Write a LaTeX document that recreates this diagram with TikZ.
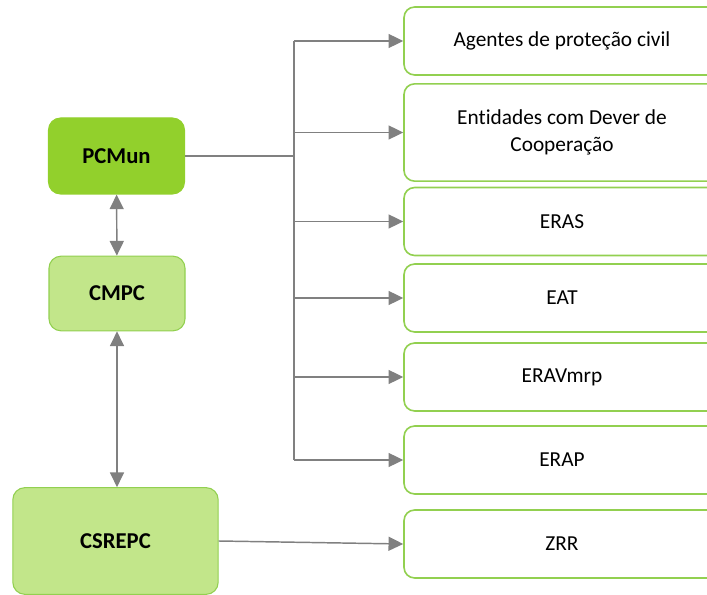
\documentclass[tikz,border=0pt]{standalone}
\usepackage{fontspec}
\setmainfont{Carlito}[Ligatures=CommonOff]
\usepackage{tikz}
\usetikzlibrary{arrows.meta,positioning}
\definecolor{pcgreen}{RGB}{146,208,44}
\definecolor{lightgreen}{RGB}{194,230,138}
\definecolor{edgegreen}{RGB}{146,208,80}
\definecolor{linegray}{RGB}{128,128,128}

\begin{document}
\begin{tikzpicture}[
  x=0.75pt, y=-0.75pt,
  mainbox/.style={rectangle, rounded corners=9pt, draw=edgegreen, line width=0.8pt, fill=lightgreen, font=\fontsize{17}{20}\selectfont\bfseries},
  entbox/.style={rectangle, rounded corners=8pt, draw=edgegreen, line width=1.2pt, fill=white, minimum width=237pt, minimum height=51pt, align=center, font=\fontsize{16}{20}\selectfont},
  link/.style={draw=linegray, line width=1.1pt},
  arr/.style={link, -{Triangle[length=11pt, width=10.5pt]}},
  dblarr/.style={link, {Triangle[length=11pt, width=10.5pt]}-{Triangle[length=11pt, width=10.5pt]}}
]
  \useasboundingbox (0,0) rectangle (707,595);

  % left column
  \node[mainbox, fill=pcgreen, draw=pcgreen, minimum width=102pt, minimum height=57pt] (pcmun) at (116.5,156) {PCMun};
  \node[mainbox, minimum width=102pt, minimum height=56pt] (cmpc) at (117,293.5) {CMPC};
  \node[mainbox, minimum width=154pt, minimum height=80pt] (csrepc) at (115.5,541) {CSREPC};

  % right column
  \node[entbox] (agentes) at (562,41) {Agentes de proteção civil};
  \node[entbox, minimum height=73pt] (entidades) at (562,132.5) {Entidades com Dever de\\Cooperação};
  \node[entbox] (eras) at (562,221.5) {ERAS};
  \node[entbox] (eat) at (562,298) {EAT};
  \node[entbox] (eravmrp) at (562,377) {ERAVmrp};
  \node[entbox] (erap) at (562,460) {ERAP};
  \node[entbox] (zrr) at (562,544) {ZRR};

  % distribution line
  \coordinate (ttop) at (294,41);
  \coordinate (tbot) at (294,460);
  \draw[link] (ttop) -- (tbot);
  \draw[link] (pcmun.east) -- (pcmun.east -| ttop);
  \foreach \n in {agentes,entidades,eras,eat,eravmrp,erap}
    \draw[arr] (ttop |- \n.west) -- (\n.west);

  \draw[dblarr] (pcmun) -- (cmpc);
  \draw[dblarr] (cmpc) -- (csrepc.north -| cmpc);
  \draw[arr] (csrepc.east) -- (zrr.west);
\end{tikzpicture}
\end{document}
